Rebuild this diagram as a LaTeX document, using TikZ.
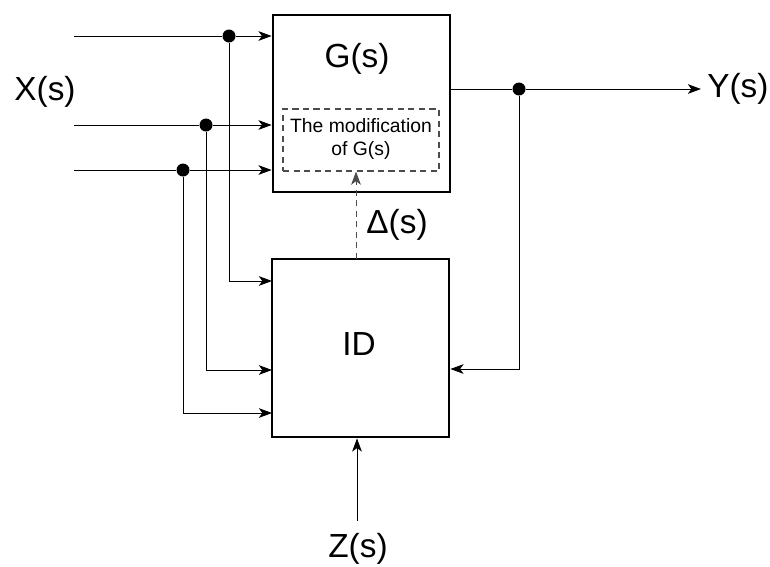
\documentclass[tikz,border=0pt]{standalone}
\usepackage{fontspec}
\setmainfont{Liberation Sans}
\usepackage{tikz}
\usetikzlibrary{arrows.meta}

\begin{document}
\begin{tikzpicture}[x=0.02cm, y=-0.02cm, line width=0.5pt,
		>={Stealth[length=7.5pt,width=5.5pt,inset=2pt]},
		box/.style={draw, line width=1.6pt, minimum width=3.54cm, minimum height=3.54cm, inner sep=0pt},
		modbox/.style={draw=black!70, dashed, dash pattern=on 3.5pt off 2.5pt, line width=0.6pt, minimum width=3.12cm, minimum height=1.24cm, inner sep=0pt},
		dot/.style={circle, fill, inner sep=0pt, minimum size=0.26cm},
		big/.style={font=\fontsize{19}{22}\selectfont},
		small/.style={font=\fontsize{11}{13.5}\selectfont, align=center}]
		\useasboundingbox (0,0) rectangle (770,566);
		
		% 方框
		\node[box] (G) at (361.5,103.5) {};
		\node[big] (Gtxt) at (357,59) {G(s)};
		\node[modbox] (M) at (361,140) {};
		\node[small] (Mtxt) at (361,139) {The modification\\of G(s)};
		\node[box, minimum height=3.56cm] (ID) at (360.5,348) {};
		\node[big] (IDtxt) at (359,344) {ID};
		
		% 文字标注
		\node[big] (X) at (45,92) {X(s)};
		\node[big, anchor=west] (Y) at (701,89) {Y(s)};
		\node[big] (D) at (397,225) {Δ(s)};
		\node[big] (Z) at (358,549) {Z(s)};
		
		% 输入
		\coordinate (in1) at (74,36);
		\coordinate (in2) at (74,125);
		\coordinate (in3) at (74,170);
		\node[dot] (d1) at (229,36) {};
		\node[dot] (d2) at (206,125) {};
		\node[dot] (d3) at (183,170) {};
		\coordinate (p1) at (272,281);
		\coordinate (p2) at (272,370);
		\coordinate (p3) at (272,413);
		
		\draw (in1) -- (d1);
		\draw (in2) -- (d2);
		\draw (in3) -- (d3);
		\draw[->] (d1) -- (G.west |- d1);
		\draw[->] (d2) -- (G.west |- d2);
		\draw[->] (d3) -- (G.west |- d3);
		\draw[->] (d1) |- (p1);
		\draw[->] (d2) |- (p2);
		\draw[->] (d3) |- (p3);
		
		% 输出和反馈
		\coordinate (out) at (G.east |- 0,89);
		\node[dot] (d4) at (519,89) {};
		\coordinate (p4) at (ID.east |- 0,369);
		\draw (out) -- (d4);
		\draw[->] (d4) -- (Y.west);
		\draw[->] (d4) |- (p4);
		
		% Delta(s) 与 Z(s)
		\coordinate (q1) at (356,259);
		\draw[->, dashed, dash pattern=on 3.5pt off 2.5pt, draw=black!70] (q1) -- (q1 |- M.south);
		\coordinate (zin) at (357,521);
		\draw[->] (zin) -- (zin |- ID.south);
	\end{tikzpicture}
\end{document}
